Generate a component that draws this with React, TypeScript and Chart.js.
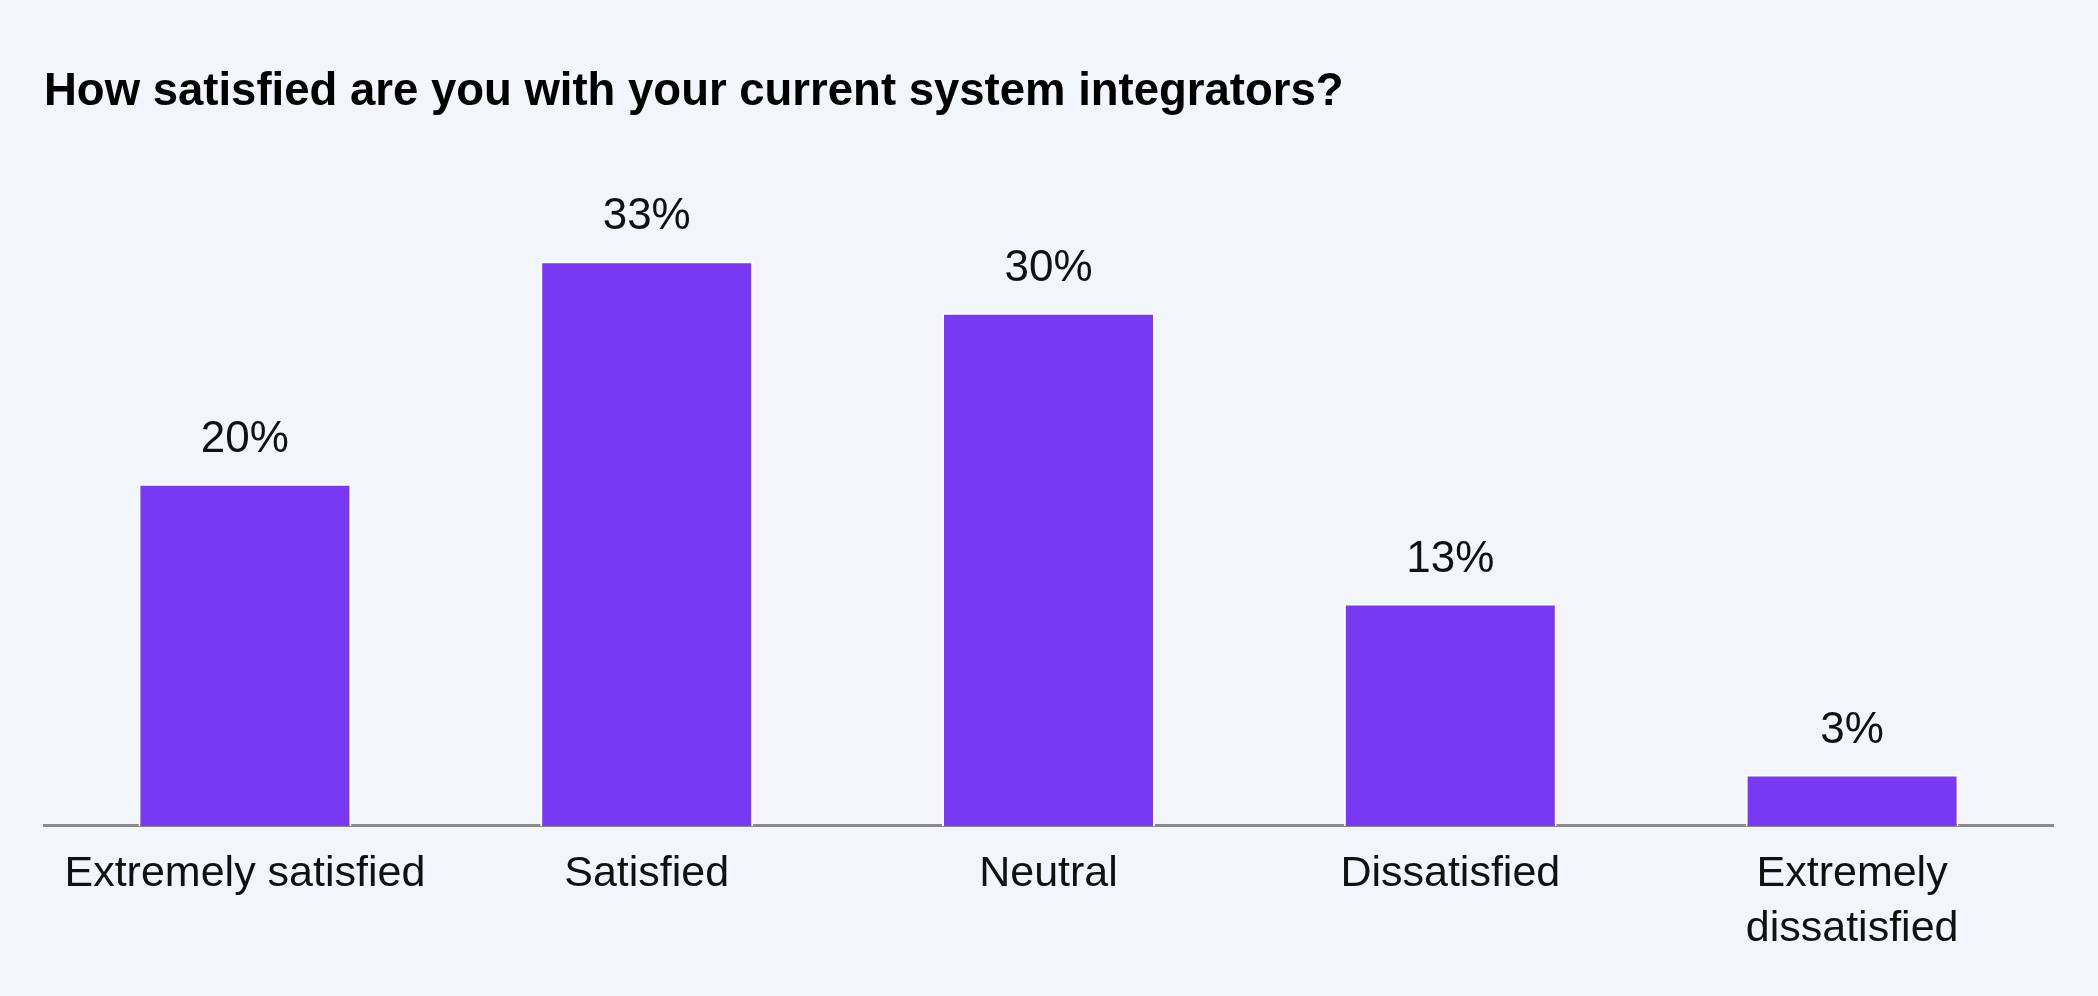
import { useEffect, useRef } from 'react';
import { Chart, registerables } from 'chart.js';

Chart.register(...registerables);

const categories: (string | string[])[] = [
  'Extremely satisfied',
  'Satisfied',
  'Neutral',
  'Dissatisfied',
  ['Extremely', 'dissatisfied'],
];
const shares = [20, 33, 30, 13, 3];
const chartTitle = 'How satisfied are you with your current system integrators?';

const FONT = '"Liberation Sans", Arial, Helvetica, sans-serif';

// draws "NN%" above each bar
const valueLabels = {
  id: 'valueLabels',
  afterDatasetsDraw(chart: Chart) {
    const ctx = chart.ctx;
    const meta = chart.getDatasetMeta(0);
    ctx.save();
    ctx.font = `44px ${FONT}`;
    ctx.fillStyle = '#111';
    ctx.textAlign = 'center';
    ctx.textBaseline = 'alphabetic';
    meta.data.forEach((bar: any, i: number) => {
      ctx.fillText(`${shares[i]}%`, bar.x, bar.y - 32);
    });
    ctx.restore();
  },
};

export default function App() {
  const canvasRef = useRef<HTMLCanvasElement>(null);

  useEffect(() => {
    if (!canvasRef.current) return;

    const chart = new Chart(canvasRef.current, {
      type: 'bar',
      data: {
        labels: categories,
        datasets: [
          {
            data: shares,
            backgroundColor: '#7739f2',
            borderColor: '#ffffff',
            borderWidth: 2,
            barPercentage: 0.53,
            categoryPercentage: 1,
          },
        ],
      },
      options: {
        responsive: true,
        maintainAspectRatio: false,
        animation: false,
        layout: { padding: { left: 44, right: 45, top: 0, bottom: 18 } },
        plugins: {
          legend: { display: false },
          tooltip: { enabled: false },
          title: {
            display: true,
            text: chartTitle,
            align: 'start',
            color: '#000',
            font: { family: FONT, size: 45.5, weight: 'bold', lineHeight: 1.2 },
            padding: { top: 65, bottom: 22 },
          },
        },
        scales: {
          x: {
            grid: { display: false, drawTicks: false },
            border: { display: true, color: '#8a8a8a', width: 3 },
            ticks: {
              color: '#111',
              padding: 21,
              maxRotation: 0,
              autoSkip: false,
              font: { family: FONT, size: 43, lineHeight: 1.28 },
            },
          },
          y: {
            display: false,
            min: 0,
            max: 40,
          },
        },
      },
      plugins: [valueLabels],
    });

    return () => chart.destroy();
  }, []);

  return (
    <div
      style={{
        position: 'fixed',
        left: 0,
        top: 0,
        width: '100vw',
        height: '100vh',
        background: '#f2f5f9',
      }}
    >
      <canvas ref={canvasRef} />
    </div>
  );
}
